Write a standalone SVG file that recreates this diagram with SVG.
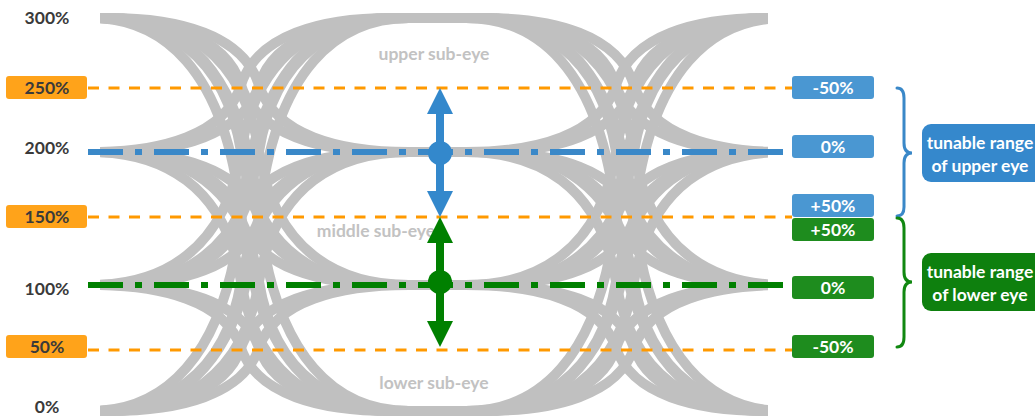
<svg xmlns="http://www.w3.org/2000/svg" width="1035" height="420" viewBox="0 0 1035 420">
<style>
.tr{fill:none;stroke:#C0C0C0;stroke-width:10}
.t{font-family:Lato,"Liberation Sans",sans-serif;font-weight:bold;font-size:17.5px;text-anchor:middle}
.dark{fill:#3a3a3a}
.wh{fill:#fff}
.eyel{fill:#C2C2C2;font-size:17.5px}
.ref{fill:none;stroke:#FF9900;stroke-width:3;stroke-dasharray:11 9.5}
.dd{fill:none;stroke-width:6;stroke-dasharray:35 12 7 12}
.brace{fill:none;stroke-width:3;stroke-linecap:round}
.ob{fill:#FFA31A}
.bb{fill:#4A97D2}
.gb{fill:#1E8C1E}
.big{font-size:17.5px}
</style>
<defs>
<clipPath id="ec"><rect x="100" y="0" width="668" height="420"/></clipPath>
<g id="tr" class="tr">
<path d="M-200 18H-150C-80 18 -16 34.75 0 85C16 135.25 80 152 150 152H200"/>
<path d="M-200 152H-150C-80 152 -16 135.25 0 85C16 34.75 80 18 150 18H200"/>
<path d="M-200 18H-150C-80 18 -16 51.4 0 151.5C16 251.6 80 285 150 285H200"/>
<path d="M-200 285H-150C-80 285 -16 251.6 0 151.5C16 51.4 80 18 150 18H200"/>
<path d="M-200 18H-150C-80 18 -16 67.1 0 214.5C16 361.9 80 411 150 411H200"/>
<path d="M-200 411H-150C-80 411 -16 361.9 0 214.5C16 67.1 80 18 150 18H200"/>
<path d="M-200 152H-150C-80 152 -16 168.6 0 218.5C16 268.4 80 285 150 285H200"/>
<path d="M-200 285H-150C-80 285 -16 268.4 0 218.5C16 168.6 80 152 150 152H200"/>
<path d="M-200 152H-150C-80 152 -16 184.4 0 281.5C16 378.6 80 411 150 411H200"/>
<path d="M-200 411H-150C-80 411 -16 378.6 0 281.5C16 184.4 80 152 150 152H200"/>
<path d="M-200 285H-150C-80 285 -16 300.75 0 348C16 395.25 80 411 150 411H200"/>
<path d="M-200 411H-150C-80 411 -16 395.25 0 348C16 300.75 80 285 150 285H200"/>
</g>
<g id="cx">
<use href="#tr" x="-9"/><use href="#tr" x="9"/>
</g>
</defs>

<g id="eye" clip-path="url(#ec)">
<use href="#cx" x="250"/>
<use href="#cx" x="625"/>
</g>

<g id="eye-labels" class="t eyel">
<text x="434" y="60">upper sub-eye</text>
<text x="376" y="237">middle sub-eye</text>
<text x="434" y="389">lower sub-eye</text>
</g>

<g id="connectors">
<path class="ref" d="M88 88H792M88 217H792M88 350H792"/>
<path class="dd" stroke="#3A88C8" d="M88 152H783"/>
<path class="dd" stroke="#008000" d="M88 285H783"/>
<path class="brace" stroke="#3A88C8" d="M897 88Q904 88 904 98V143Q904 153 912 153Q904 153 904 163V207Q904 216 897 216"/>
<path class="brace" stroke="#118811" d="M897 218Q904 218 904 228V272Q904 282 912 282Q904 282 904 292V337Q904 347 897 347"/>
</g>

<g id="blue-arrow" fill="#3388CC">
<rect x="436" y="110" width="8" height="84"/>
<polygon points="440,88 427,114 453,114"/>
<polygon points="440,217 427,191 453,191"/>
<circle cx="440" cy="153" r="12"/>
</g>
<g id="green-arrow" fill="#008000">
<rect x="436" y="240" width="8" height="84"/>
<polygon points="440,217 427,243 453,243"/>
<polygon points="440,347 427,321 453,321"/>
<circle cx="440" cy="282" r="12"/>
</g>

<g id="lbl-300" class="t dark"><text x="47" y="24">300%</text></g>
<g id="lbl-250"><rect class="ob" x="6" y="76" width="81" height="23" rx="3"/><text class="t dark" x="47" y="94">250%</text></g>
<g id="lbl-200" class="t dark"><text x="47" y="154">200%</text></g>
<g id="lbl-150"><rect class="ob" x="6" y="205" width="81" height="23" rx="3"/><text class="t dark" x="47" y="223">150%</text></g>
<g id="lbl-100" class="t dark"><text x="47" y="295">100%</text></g>
<g id="lbl-50"><rect class="ob" x="6" y="335" width="81" height="23" rx="3"/><text class="t dark" x="47" y="353">50%</text></g>
<g id="lbl-0" class="t dark"><text x="47" y="413">0%</text></g>

<g id="up-m50"><rect class="bb" x="792" y="76" width="82" height="23" rx="3"/><text class="t wh" x="833" y="94">-50%</text></g>
<g id="up-0"><rect class="bb" x="792" y="135" width="82" height="23" rx="3"/><text class="t wh" x="833" y="153">0%</text></g>
<g id="up-p50"><rect class="bb" x="792" y="194" width="82" height="23" rx="3"/><text class="t wh" x="833" y="212">+50%</text></g>
<g id="lo-p50"><rect class="gb" x="792" y="218" width="82" height="23" rx="3"/><text class="t wh" x="833" y="236">+50%</text></g>
<g id="lo-0"><rect class="gb" x="792" y="276" width="82" height="23" rx="3"/><text class="t wh" x="833" y="294">0%</text></g>
<g id="lo-m50"><rect class="gb" x="792" y="335" width="82" height="23" rx="3"/><text class="t wh" x="833" y="353">-50%</text></g>

<g id="upper-range"><rect fill="#3588CC" x="922" y="124" width="130" height="58" rx="9"/><text class="t wh big" x="980" y="149">tunable range</text><text class="t wh big" x="980" y="172">of upper eye</text></g>
<g id="lower-range"><rect fill="#0E800E" x="922" y="253" width="130" height="58" rx="9"/><text class="t wh big" x="980" y="278">tunable range</text><text class="t wh big" x="980" y="301">of lower eye</text></g>
</svg>
